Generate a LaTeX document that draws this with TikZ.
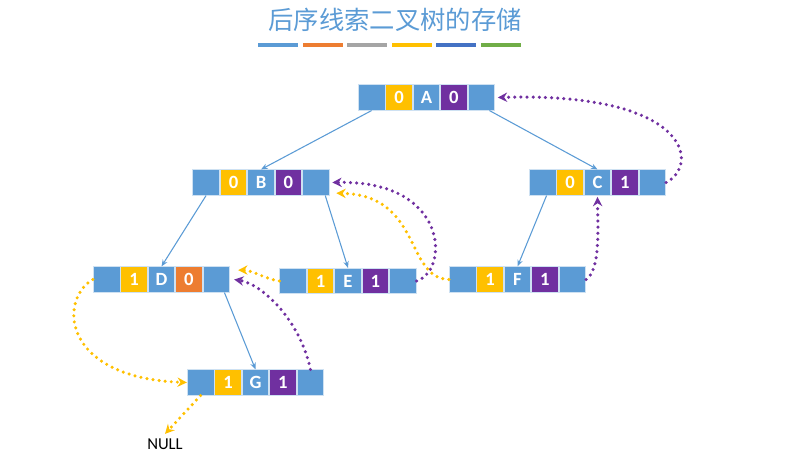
\documentclass[tikz,border=0pt]{standalone}
\usepackage{fontspec}
\setmainfont{Carlito}
\newfontfamily\cjk{Noto Sans CJK SC}
\usetikzlibrary{arrows.meta, positioning}

\definecolor{cellblue}{HTML}{5B9BD5}
\definecolor{tagyellow}{HTML}{FFC000}
\definecolor{tagpurple}{HTML}{7030A0}
\definecolor{tagorange}{HTML}{ED7D31}
\definecolor{barblue}{HTML}{5B9BD5}
\definecolor{bargray}{HTML}{A5A5A5}
\definecolor{bardark}{HTML}{4472C4}
\definecolor{bargreen}{HTML}{70AD47}

% one threaded node: name, centre, ltag fill, ltag, data, rtag fill, rtag
\newcommand{\tnode}[7]{%
  \node[cell] (#1d) at (#2) {#5};
  \node[cell, fill=#3, left=0pt of #1d] (#1lt) {#4};
  \node[cell, fill=#6, right=0pt of #1d] (#1rt) {#7};
  \node[cell, left=0pt of #1lt] (#1l) {};
  \node[cell, right=0pt of #1rt] (#1r) {};
}

\begin{document}
\begin{tikzpicture}[
    x=0.75pt, y=-0.75pt,
    cell/.style={rectangle, draw=white!70!cellblue, fill=cellblue, line width=0.6pt,
                 minimum width=20pt, minimum height=19pt, inner sep=0pt,
                 text=white, font=\bfseries\fontsize{14}{14}\selectfont},
    child/.style={-{Stealth[length=5pt, width=4pt]}, draw=cellblue, line width=0.8pt},
    thread/.style={line width=2.6pt, line cap=round, dash pattern=on 0pt off 4.6pt,
                   -{Stealth[length=7pt, width=7pt]}},
    ythread/.style={thread, draw=tagyellow},
    pthread/.style={thread, draw=tagpurple},
]
\useasboundingbox (0,0) rectangle (787,452);

% Title
\node[font=\cjk\fontsize{19}{22}\selectfont, text=cellblue] (title) at (395,20) {后序线索二叉树的存储};
\foreach \c [count=\i from 0] in {barblue, tagorange, bargray, tagyellow, bardark, bargreen}
  \fill[\c] (258+\i*44.6,43) rectangle ++(40,4);

% Nodes
\tnode{A}{426.5,97.5}{tagyellow}{0}{A}{tagpurple}{0}
\tnode{B}{261,182.5}{tagyellow}{0}{B}{tagpurple}{0}
\tnode{C}{597.5,182.5}{tagyellow}{0}{C}{tagpurple}{1}
\tnode{D}{161.5,279.5}{tagyellow}{1}{D}{tagorange}{0}
\tnode{E}{348,281}{tagyellow}{1}{E}{tagpurple}{1}
\tnode{F}{517.5,279.5}{tagyellow}{1}{F}{tagpurple}{1}
\tnode{G}{255.5,382.5}{tagyellow}{1}{G}{tagpurple}{1}

\node[font=\fontsize{12.5}{13}\selectfont] (null) at (165,444) {NULL};

% Child links
\draw[child] (Al.south) -- (Bd.north);
\draw[child] ([xshift=6pt]Ar.south) -- (Cd.north);
\draw[child] (Bl.south) -- (Dd.north);
\draw[child] ([xshift=7pt]Br.south) -- (Ed.north);
\draw[child] ([xshift=3pt]Cl.south) -- (Fd.north);
\draw[child] ([xshift=6pt]Dr.south) -- (Gd.north);

% Threads
\draw[ythread] (Dl.west) .. controls (58,300) and (62,378) .. (Gl.west);
\draw[ythread] (Gl.south) -- (null.north);
\draw[pthread] (Gr.north) .. controls (300,320) and (262,284) .. ([xshift=3pt]Dr.east);
\draw[ythread] (El.west) .. controls (265,279) and (252,270) .. ([xshift=6pt, yshift=7pt]Dr.east);
\draw[pthread] (Er.east) .. controls (450,270) and (448,180) .. ([xshift=2pt]Br.east);
\draw[ythread] (Fl.west) .. controls (405,278) and (422,195) .. ([xshift=5pt, yshift=-8pt]Br.east);
\draw[pthread] (Fr.east) .. controls (600,270) and (598,232) .. ([yshift=-1pt]Cd.south);
\draw[pthread] (Cr.east) .. controls (700,165) and (690,92) .. ([xshift=2pt]Ar.east);

\end{tikzpicture}
\end{document}
